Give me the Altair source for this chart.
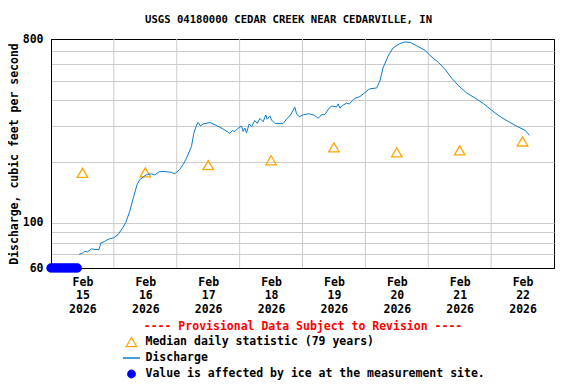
import altair as alt
import pandas as pd

FONT = "DejaVu Sans Mono"
start = pd.Timestamp("2026-02-15 00:00")

MED = "Median daily statistic (79 years)"
DIS = "Discharge"
ICE = "Value is affected by ice at the measurement site."

# Discharge (days since Feb 15 00:00, cfs)
discharge_day = [0.446, 0.50, 0.536, 0.58, 0.642, 0.70, 0.764, 0.79, 0.85, 0.907, 0.997, 1.066,
                 1.135, 1.188, 1.252, 1.316, 1.369, 1.411, 1.491, 1.53, 1.597, 1.65, 1.72, 1.783,
                 1.85, 1.915, 1.968, 2.048, 2.1, 2.155, 2.234, 2.271, 2.314, 2.34, 2.378, 2.42,
                 2.526, 2.578, 2.685, 2.765, 2.844, 2.887, 2.924, 2.977, 3.03, 3.056, 3.083, 3.11,
                 3.152, 3.19, 3.242, 3.279, 3.322, 3.374, 3.417, 3.438, 3.481, 3.508, 3.56, 3.693,
                 3.747, 3.81, 3.878, 3.906, 3.947, 4.01, 4.09, 4.117, 4.17, 4.224, 4.25, 4.30,
                 4.357, 4.425, 4.463, 4.542, 4.568, 4.595, 4.622, 4.648, 4.70, 4.743, 4.834, 4.913,
                 4.966, 5.045, 5.07, 5.18, 5.23, 5.28, 5.36, 5.44, 5.55, 5.63, 5.71, 5.81, 5.95,
                 6.03, 6.16, 6.27, 6.37, 6.48, 6.61, 6.74, 6.88, 7.01, 7.14, 7.27, 7.41, 7.54, 7.61]
discharge_cfs = [70, 71, 72.5, 72, 74.5, 74, 74, 79.5, 81, 83, 84.5, 87.5,
                 94, 100, 114, 135, 154, 163, 170, 173, 174, 172, 178, 179,
                 178, 177, 174, 183, 193, 208, 237, 275, 302, 311, 299, 306,
                 311, 306, 295, 286, 275, 284, 281, 292, 299, 281, 292, 277,
                 306, 297, 318, 308, 326, 314, 339, 323, 335, 320, 308, 308,
                 323, 339, 370, 343, 332, 339, 343, 343, 339, 332, 326, 339,
                 341, 366, 375, 371, 384, 366, 375, 379, 387, 384, 409, 417,
                 430, 450, 455, 460, 496, 576, 658, 723, 760, 774, 770, 743, 704,
                 663, 615, 566, 515, 472, 435, 411, 385, 357, 333, 315, 298, 285, 269]

# Median daily statistic (noon of each day)
median_day = [0.5, 1.5, 2.5, 3.5, 4.5, 5.5, 6.5, 7.5]
median_cfs = [176, 177, 192, 203, 235, 222, 227, 251]

# Ice-affected values (hours on Feb 15)
ice_hour = [0, 1, 2, 3, 4, 5, 6, 7, 8, 9, 10]
ice_cfs = [60, 60, 60, 60, 60, 60, 60, 60, 60, 60, 60]

# Day boundaries for vertical grid lines
grid_day = [1, 2, 3, 4, 5, 6, 7]

y_ticks = [60, 70, 80, 90, 100, 200, 300, 400, 500, 600, 700, 800]
label_days = [15, 16, 17, 18, 19, 20, 21, 22]


def to_time(days):
    return [(start + pd.Timedelta(days=d)).round("min") for d in days]


dis_df = pd.DataFrame({"time": to_time(discharge_day), "cfs": discharge_cfs, "series": DIS})
med_df = pd.DataFrame({"time": to_time(median_day), "cfs": median_cfs, "series": MED})
ice_df = pd.DataFrame({"time": to_time([h / 24 for h in ice_hour]), "cfs": ice_cfs, "series": ICE})
grid_df = pd.DataFrame({"time": to_time(grid_day)})

dom = [MED, DIS, ICE]
leg = alt.Legend(orient="none", legendX=71, legendY=295, title=None, padding=0,
                 labelFont=FONT, labelFontSize=11.5, labelFontWeight="bold", labelColor="black",
                 labelLimit=1000, labelOffset=4.5, rowPadding=0, clipHeight=16,
                 symbolStrokeWidth=1.3)

stroke_enc = alt.Stroke("series:N", scale=alt.Scale(domain=dom, range=["#FFA500", "#0A7BD0", "#0000FF"]), legend=leg)
fill_enc = alt.Fill("series:N", scale=alt.Scale(domain=dom, range=["transparent", "transparent", "#0000FF"]), legend=leg)
shape_enc = alt.Shape("series:N", scale=alt.Scale(domain=dom, range=["triangle-up", "stroke", "circle"]), legend=leg)
size_enc = alt.Size("series:N", scale=alt.Scale(type="ordinal", domain=dom, range=[110, 289, 56]), legend=leg)

x_enc = alt.X(
    "time:T",
    scale=alt.Scale(domain=[alt.DateTime(year=2026, month=2, date=15),
                            alt.DateTime(year=2026, month=2, date=23)], nice=False),
    axis=alt.Axis(
        values=[alt.DateTime(year=2026, month=2, date=d, hours=12) for d in label_days],
        labelExpr="[timeFormat(datum.value, '%b'), timeFormat(datum.value, '%d'), timeFormat(datum.value, '%Y')]",
        grid=False, ticks=False, domainColor="black", labelOverlap=False, labelFlush=False,
        labelFont=FONT, labelFontSize=11.5, labelFontWeight="bold", labelColor="black",
        labelPadding=8, labelLineHeight=13.5,
        title="---- Provisional Data Subject to Revision ----", titleColor="red",
        titleFont=FONT, titleFontSize=11.5, titleFontWeight="bold", titlePadding=6,
    ),
)

y_enc = alt.Y(
    "cfs:Q",
    scale=alt.Scale(type="log", domain=[60, 800], nice=False),
    axis=alt.Axis(
        values=y_ticks,
        labelExpr="(datum.value == 60 || datum.value == 100 || datum.value == 800) ? format(datum.value, 'd') : ''",
        grid=True, gridColor={"condition": {"test": "datum.value == 60 || datum.value == 800", "value": "black"}, "value": "#cccccc"},
        ticks=False, domainColor="black", labelOverlap=False,
        labelFont=FONT, labelFontSize=11.5, labelFontWeight="bold", labelColor="black", labelPadding=8,
        title="Discharge, cubic feet per second", titleColor="black",
        titleFont=FONT, titleFontSize=11.5, titleFontWeight="bold", titlePadding=3,
    ),
)

rules = alt.Chart(grid_df).mark_rule(color="#cccccc", strokeWidth=1).encode(x=x_enc)

median = alt.Chart(med_df).mark_point(filled=False, opacity=1, strokeWidth=1.3).encode(
    x=x_enc, y=y_enc, stroke=stroke_enc, fill=fill_enc, shape=shape_enc, size=size_enc)

line = alt.Chart(dis_df).mark_line(strokeWidth=1).encode(x=x_enc, y=y_enc, stroke=stroke_enc)

ice = alt.Chart(ice_df).mark_point(filled=True, opacity=1).encode(
    x=x_enc, y=y_enc, stroke=stroke_enc, fill=fill_enc, shape=shape_enc, size=size_enc)

chart = alt.layer(rules, median, line, ice).properties(
    width=503, height=229,
    autosize=alt.AutoSizeParams(type="none"),
    padding={"left": 43, "top": 31, "right": 10, "bottom": 112},
    title=alt.Title("USGS 04180000 CEDAR CREEK NEAR CEDARVILLE, IN", font=FONT, fontSize=10.6,
                    fontWeight="bold", color="black", anchor="middle", dx=-14, dy=16, offset=15,
                    baseline="alphabetic"),
).configure_view(stroke="black", strokeWidth=1)

chart.save("out.html", embed_options={"renderer": "svg", "actions": False})
